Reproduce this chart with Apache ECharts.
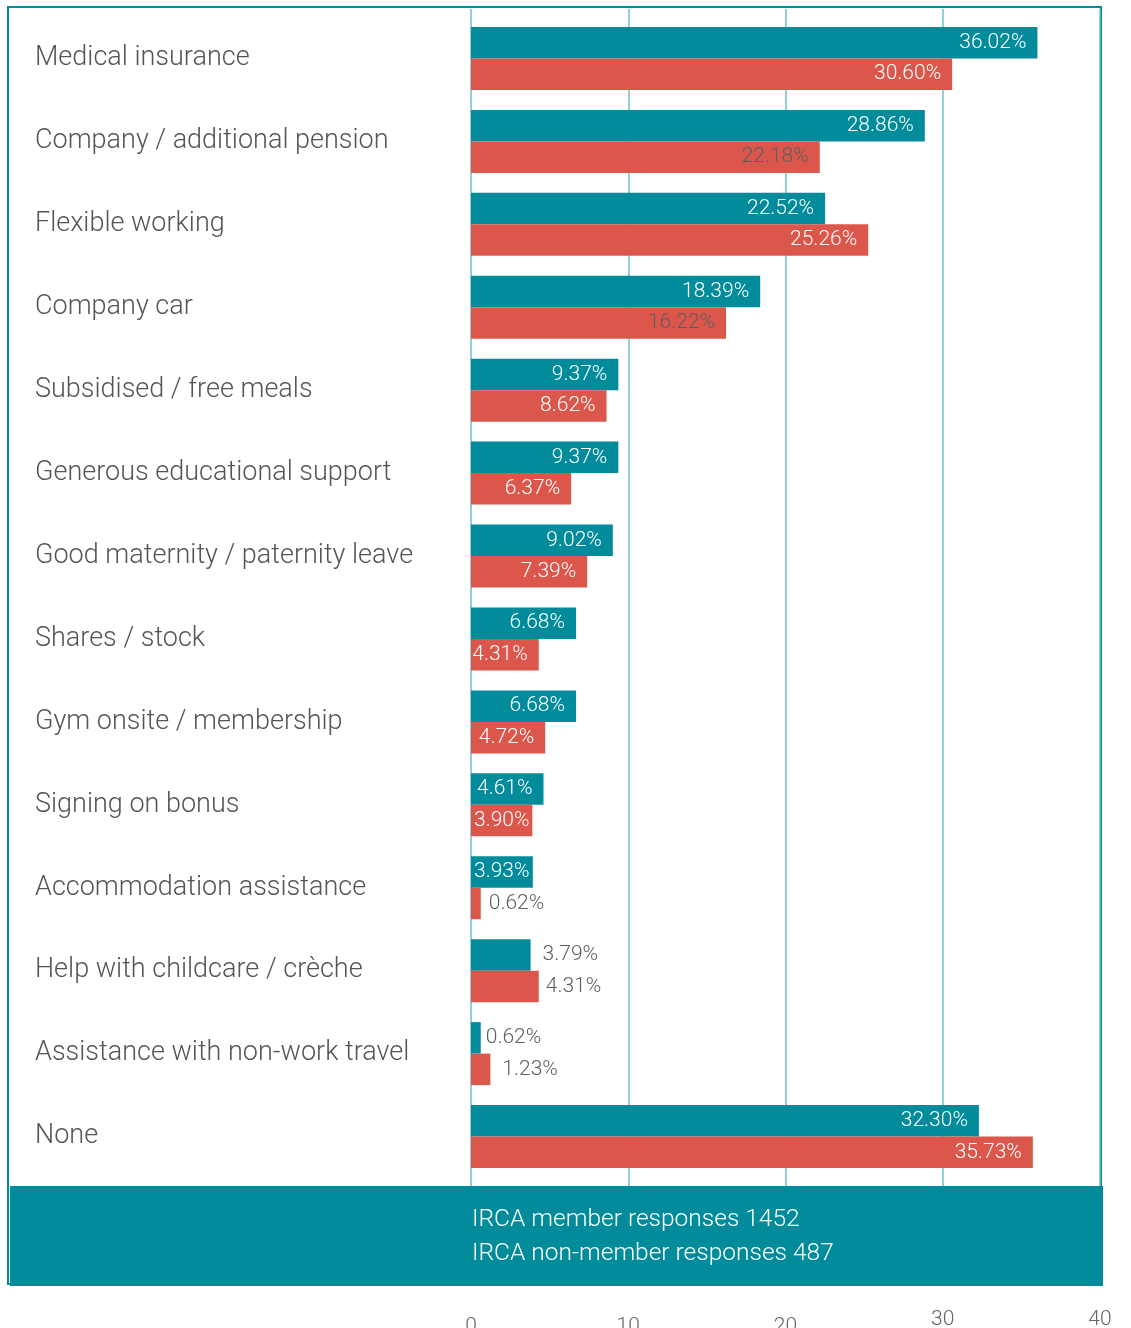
<!DOCTYPE html>
<html>
<head>
<meta charset="utf-8">
<script src="https://cdn.jsdelivr.net/npm/echarts@6/dist/echarts.min.js"></script>
<style>
html,body{margin:0;padding:0;background:#fff;}
#chart{width:1131px;height:1328px;}
</style>
</head>
<body>
<div id="chart"></div>
<script>
const categories = [
  'Medical insurance',
  'Company / additional pension',
  'Flexible working',
  'Company car',
  'Subsidised / free meals',
  'Generous educational support',
  'Good maternity / paternity leave',
  'Shares / stock',
  'Gym onsite / membership',
  'Signing on bonus',
  'Accommodation assistance',
  'Help with childcare / crèche',
  'Assistance with non-work travel',
  'None'
];
const memberValues    = [36.02, 28.86, 22.52, 18.39, 9.37, 9.37, 9.02, 6.68, 6.68, 4.61, 3.93, 3.79, 0.62, 32.30];
const nonMemberValues = [30.60, 22.18, 25.26, 16.22, 8.62, 6.37, 7.39, 4.31, 4.72, 3.90, 0.62, 4.31, 1.23, 35.73];
const axisTicks = [0, 10, 20, 30, 40];
const footerLines = ['IRCA member responses 1452', 'IRCA non-member responses 487'];

const TEAL = '#028c9b';
const RED = '#dc574b';
const GRAY = '#5e5e5e';
const FONT = 'Roboto';

// label styling decisions (not data)
const memberOutside = {11: 12, 12: 5};
const nonMemberOutside = {10: 8, 11: 7, 12: 12};
const nonMemberGrayInside = [1, 3];
const memberTight = [10];
const nonMemberTight = [9];

function fmt(v){ return v.toFixed(2) + '%'; }

function buildItems(values, outside, grayInside, tight){
  return values.map((v, i) => {
    const item = {value: v};
    if (outside[i] !== undefined) {
      item.label = {position: 'right', distance: outside[i], color: GRAY};
    } else if (grayInside.indexOf(i) >= 0) {
      item.label = {color: GRAY};
    } else if (tight.indexOf(i) >= 0) {
      item.label = {position: 'insideLeft', distance: 3};
    }
    return item;
  });
}

const chart = echarts.init(document.getElementById('chart'), null, {renderer: 'canvas'});

const labelBase = {
  show: true,
  position: 'insideRight',
  distance: 11,
  color: '#ffffff',
  fontFamily: FONT,
  fontWeight: 300,
  fontSize: 21,
  padding: [4, 0, 0, 0],
  formatter: p => fmt(p.value)
};

chart.setOption({
  backgroundColor: '#ffffff',
  animation: false,
  title: {
    text: footerLines.join('\n'),
    left: 472,
    top: 1203,
    padding: 0,
    textStyle: {color: '#ffffff', fontFamily: FONT, fontWeight: 300, fontSize: 24.5, lineHeight: 34}
  },
  graphic: [
    {type: 'rect', z: -10, shape: {x: 8, y: 7, width: 1093, height: 1277},
     style: {fill: 'none', stroke: TEAL, lineWidth: 2}},
    {type: 'rect', z: 5, shape: {x: 10, y: 1186, width: 1093, height: 100},
     style: {fill: TEAL}}
  ],
  grid: [
    {left: 471, right: 31, top: 17, height: 1161, containLabel: false, outerBoundsMode: 'none'},
    {left: 471, right: 31, top: 9, height: 1177, containLabel: false, outerBoundsMode: 'none'}
  ],
  xAxis: [
    {gridIndex: 0, type: 'value', min: 0, max: 40, interval: 10, show: false},
    {gridIndex: 1, type: 'value', min: axisTicks[0], max: axisTicks[axisTicks.length - 1], interval: 10,
     axisLine: {show: false}, axisTick: {show: false},
     splitLine: {show: true, lineStyle: {color: '#6fbfc8', width: 1.5}},
     axisLabel: {
       margin: 123,
       formatter: v => (v >= 30 ? '{hi|' + v + '}' : '{lo|' + v + '}'),
       rich: {
         hi: {color: '#666', fontFamily: FONT, fontWeight: 300, fontSize: 21},
         lo: {color: '#666', fontFamily: FONT, fontWeight: 300, fontSize: 21, padding: [7, 0, 0, 0]}
       }
     }}
  ],
  yAxis: [
    {gridIndex: 0, type: 'category', data: categories, inverse: true,
     axisLine: {show: false}, axisTick: {show: false}, splitLine: {show: false},
     axisLabel: {align: 'left', margin: 436, color: '#555', fontFamily: FONT, fontWeight: 300, fontSize: 27, padding: [10, 0, 0, 0]}},
    {gridIndex: 1, type: 'category', data: categories, show: false}
  ],
  series: [
    {name: 'IRCA member', type: 'bar', xAxisIndex: 0, yAxisIndex: 0,
     data: buildItems(memberValues, memberOutside, [], memberTight),
     barWidth: 31.5, barGap: '0%', itemStyle: {color: TEAL}, label: labelBase},
    {name: 'IRCA non-member', type: 'bar', xAxisIndex: 0, yAxisIndex: 0,
     data: buildItems(nonMemberValues, nonMemberOutside, nonMemberGrayInside, nonMemberTight),
     barWidth: 31.5, barGap: '0%', itemStyle: {color: RED}, label: labelBase}
  ]
});
</script>
</body>
</html>
